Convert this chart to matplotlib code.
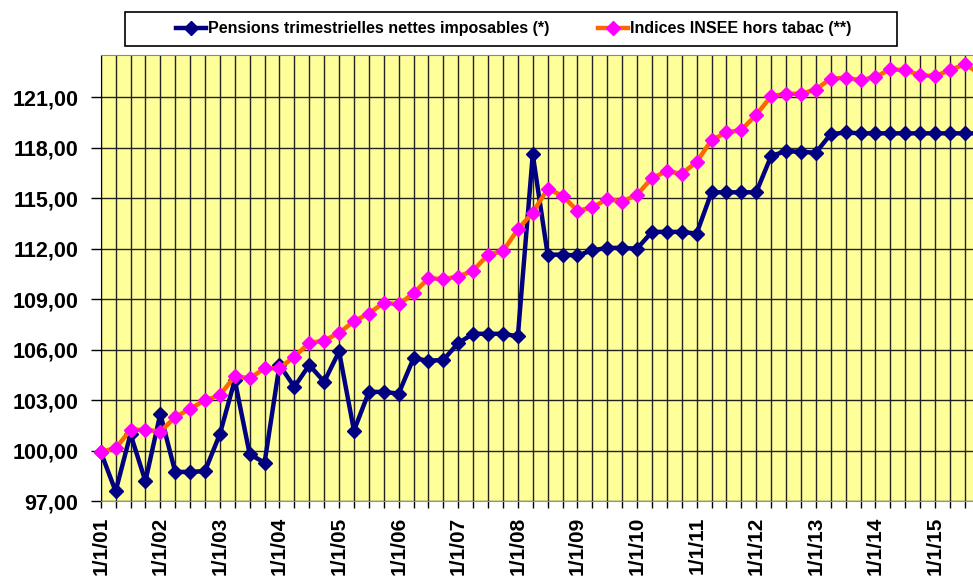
import numpy as np
import matplotlib
matplotlib.use('Agg')
import matplotlib.pyplot as plt
from matplotlib.ticker import FuncFormatter
from matplotlib.patches import Rectangle

plt.rcParams['font.family'] = ['Liberation Sans', 'DejaVu Sans']
plt.rcParams['font.weight'] = 'bold'

# quarterly points, first one is 1/1/01
years = ['01', '02', '03', '04', '05', '06', '07', '08',
         '09', '10', '11', '12', '13', '14', '15']

pensions = [99.95, 97.6, 101.0, 98.2, 102.2, 98.75, 98.75, 98.8,
            101.0, 104.2, 99.8, 99.3, 105.1, 103.8, 105.1, 104.1,
            105.9, 101.2, 103.5, 103.5, 103.4, 105.5, 105.35, 105.4,
            106.4, 106.95, 106.95, 106.95, 106.8, 117.6, 111.65, 111.65,
            111.6, 111.9, 112.05, 112.05, 112.0, 113.0, 113.0, 113.0,
            112.9, 115.35, 115.35, 115.35, 115.35, 117.5, 117.8, 117.75,
            117.7, 118.8, 118.9, 118.85, 118.85, 118.85, 118.85, 118.85,
            118.85, 118.85, 118.85, 118.85]

insee = [99.95, 100.15, 101.25, 101.25, 101.15, 102.0, 102.5, 103.0,
         103.3, 104.45, 104.3, 104.9, 104.9, 105.6, 106.4, 106.55,
         107.0, 107.7, 108.15, 108.8, 108.7, 109.35, 110.25, 110.2,
         110.35, 110.7, 111.65, 111.85, 113.15, 114.15, 115.55, 115.15,
         114.25, 114.45, 114.95, 114.8, 115.2, 116.2, 116.6, 116.45,
         117.15, 118.45, 118.9, 119.05, 119.95, 121.05, 121.2, 121.2,
         121.45, 122.1, 122.15, 122.0, 122.2, 122.65, 122.6, 122.3,
         122.25, 122.6, 122.95, 122.4]

x = np.arange(len(pensions))

fig = plt.figure(figsize=(9.73, 5.79), dpi=100)
ax = fig.add_axes([0.1035, 0.134, 0.8965, 0.771])
ax.set_facecolor('#FFFF99')

ax.plot(x, pensions, color='#000080', lw=3.2, marker='D', ms=7,
        mfc='#000080', mec='#000080', clip_on=False, zorder=4,
        label='Pensions trimestrielles nettes imposables (*)')
ax.plot(x, insee, color='#FF6600', lw=3.2, marker='D', ms=7,
        mfc='#FF00FF', mec='#FF00FF', clip_on=False, zorder=5,
        label='Indices INSEE hors tabac (**)')

ax.set_xlim(0, 58.55)
ax.set_ylim(97, 123.5)

ax.set_yticks(np.arange(97, 122, 3))
ax.yaxis.set_major_formatter(FuncFormatter(lambda v, p: f'{v:.2f}'.replace('.', ',')))

ax.set_xticks(x[x <= 58])
xlabels = []
for i in x[x <= 58]:
    if i % 4 == 0:
        xlabels.append('1/1/' + years[i // 4])
    else:
        xlabels.append('')
ax.set_xticklabels(xlabels, rotation=90, fontsize=15, fontweight='bold')

ax.grid(True, color='#222222', lw=1.0, zorder=1)
ax.set_axisbelow(True)
ax.tick_params(axis='y', length=7, width=1, pad=9, labelsize=15.5)
ax.tick_params(axis='x', length=5, width=1, pad=6)

ax.spines['left'].set_color('black')
ax.spines['bottom'].set_color('#999966')
ax.spines['top'].set_color('#888888')
ax.spines['right'].set_visible(False)

# legend box drawn apart, legend itself without frame
fig.patches.append(Rectangle((125 / 973, 1 - 46 / 579), 772 / 973, 34 / 579,
                             transform=fig.transFigure, fill=False,
                             edgecolor='black', lw=1.2))
fig.legend(loc='center', bbox_to_anchor=(0.528, 0.95), ncol=2,
           fontsize=11.5, frameon=False, handlelength=1.9,
           columnspacing=3.0, handletextpad=0.15)

fig.savefig('out.png', dpi=100)
